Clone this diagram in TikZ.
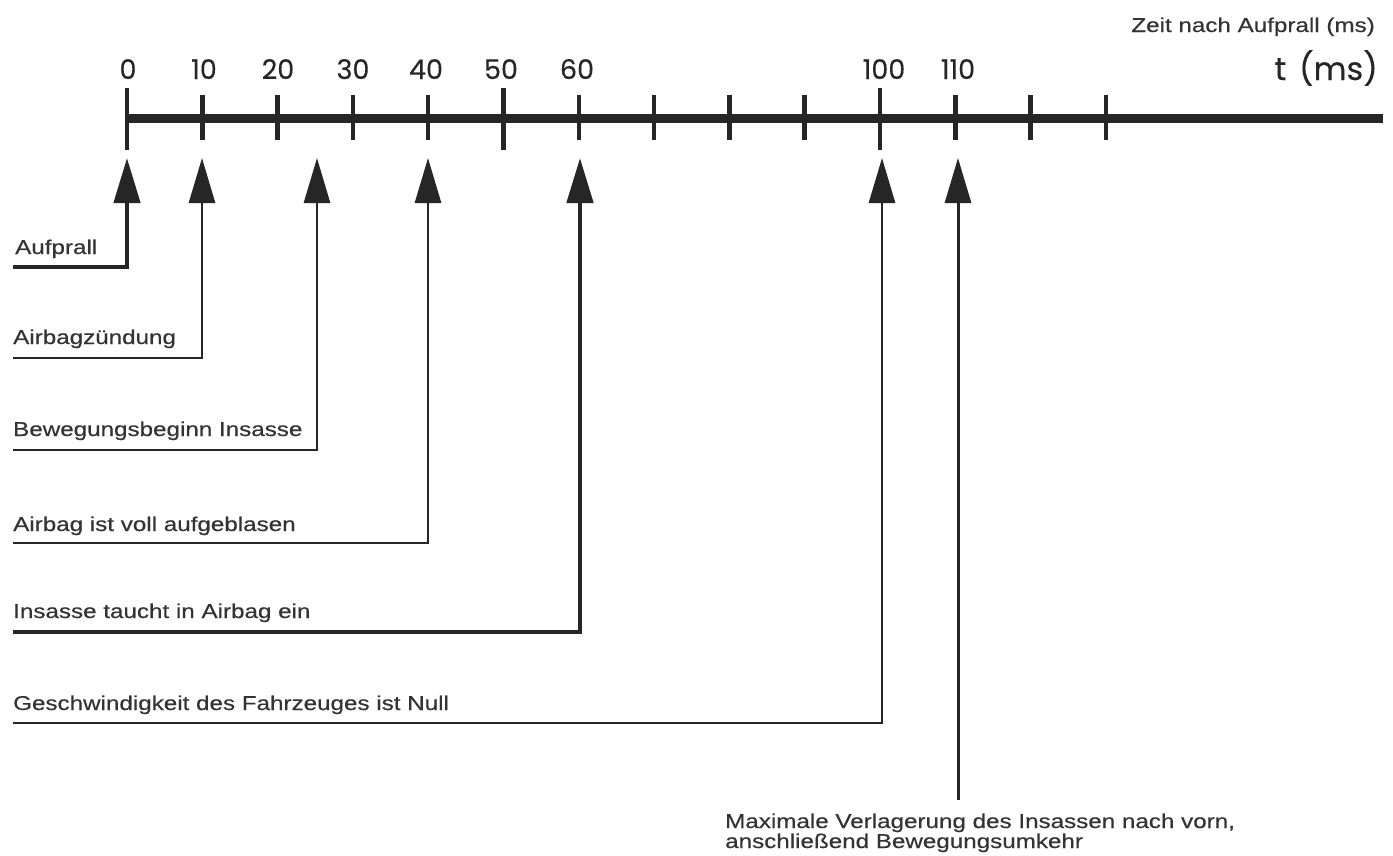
\documentclass[tikz,border=0pt]{standalone}
\usepackage{fontspec}
\usetikzlibrary{arrows.meta}
\newfontfamily\labfont{Liberation Sans}[FakeStretch=1.21,FakeBold=0.4]
\newfontfamily\numfont{Poppins}[FakeBold=0.25]
\definecolor{ink}{HTML}{262626}
\definecolor{txt}{HTML}{333333}
\begin{document}
\begin{tikzpicture}[x=1pt,y=-1pt,
  lab/.style={anchor=base west, inner sep=0pt, text=txt, font=\labfont\fontsize{20}{21}\selectfont},
  num/.style={anchor=base, inner sep=0pt, text=ink, font=\numfont\fontsize{27}{29}\selectfont},
  axisline/.style={draw=ink, line width=9pt},
  tickline/.style={draw=ink, line width=4.5pt},
  conn/.style={draw=ink, line width=#1, -{Triangle[width=26pt,length=45pt]}},
]
\useasboundingbox (0,0) rectangle (1393,855);
\fill[white] (0,0) rectangle (1393,855);

% axis
\coordinate (axL) at (125,118);
\coordinate (axR) at (1383,118);
\draw[axisline] (axL) -- (axR);
\foreach \k in {0,...,13}{
  \pgfmathsetmacro{\xx}{127+75.3*\k}
  \ifnum\k=0 \def\ya{88}\def\yb{150}\else
  \ifnum\k=5 \def\ya{88}\def\yb{150}\else
  \ifnum\k=10 \def\ya{88}\def\yb{150}\else
  \def\ya{95}\def\yb{140}\fi\fi\fi
  \coordinate (tA\k) at (\xx,\ya);
  \coordinate (tB\k) at (\xx,\yb);
  \draw[tickline] (tA\k) -- (tB\k);
}

% scale numbers
\node[num] (n0) at (128,79) {0};
\node[num] (n10) at (204,79) {10};
\node[num] (n20) at (278,79) {20};
\node[num] (n30) at (353,79) {30};
\node[num] (n40) at (426,79) {40};
\node[num] (n50) at (501,79) {50};
\node[num] (n60) at (577,79) {60};
\node[num] (n100) at (884,79) {100};
\node[num] (n110) at (958,79) {110};

\node[lab, anchor=base east] (zeit) at (1375,32) {Zeit nach Aufprall (ms)};
\node[anchor=base east, inner sep=0pt, text=ink, font=\numfont\fontsize{32}{34}\selectfont] (unit) at (1378,80) {t\hspace{0.4em}(ms)};

% arrow targets
\coordinate (a0) at (127,158);
\coordinate (a10) at (202,158);
\coordinate (a25) at (317,158);
\coordinate (a40) at (428,158);
\coordinate (a60) at (580,158);
\coordinate (a100) at (882,158);
\coordinate (a110) at (958,158);

% connector starts
\coordinate (s0) at (13,267);
\coordinate (s10) at (13,358);
\coordinate (s25) at (13,450);
\coordinate (s40) at (13,543);
\coordinate (s60) at (13,632);
\coordinate (s100) at (13,723);
\coordinate (s110) at (958,800);

\draw[conn=4.5pt] (s0) -| (a0);
\draw[conn=2.6pt] (s10) -| (a10);
\draw[conn=2.8pt] (s25) -| (a25);
\draw[conn=2.8pt] (s40) -| (a40);
\draw[conn=4.8pt] (s60) -| (a60);
\draw[conn=2.8pt] (s100) -| (a100);
\draw[conn=3pt] (s110) -- (a110);

% labels
\node[lab] (l0) at (15,254) {Aufprall};
\node[lab] (l10) at (13,344) {Airbagzündung};
\node[lab] (l25) at (13,436) {Bewegungsbeginn Insasse};
\node[lab] (l40) at (13,531) {Airbag ist voll aufgeblasen};
\node[lab] (l60) at (13,618) {Insasse taucht in Airbag ein};
\node[lab] (l100) at (13,710) {Geschwindigkeit des Fahrzeuges ist Null};
\node[lab] (l110a) at (725,828) {Maximale Verlagerung des Insassen nach vorn,};
\node[lab] (l110b) at (725,848) {anschließend Bewegungsumkehr};
\end{tikzpicture}
\end{document}
